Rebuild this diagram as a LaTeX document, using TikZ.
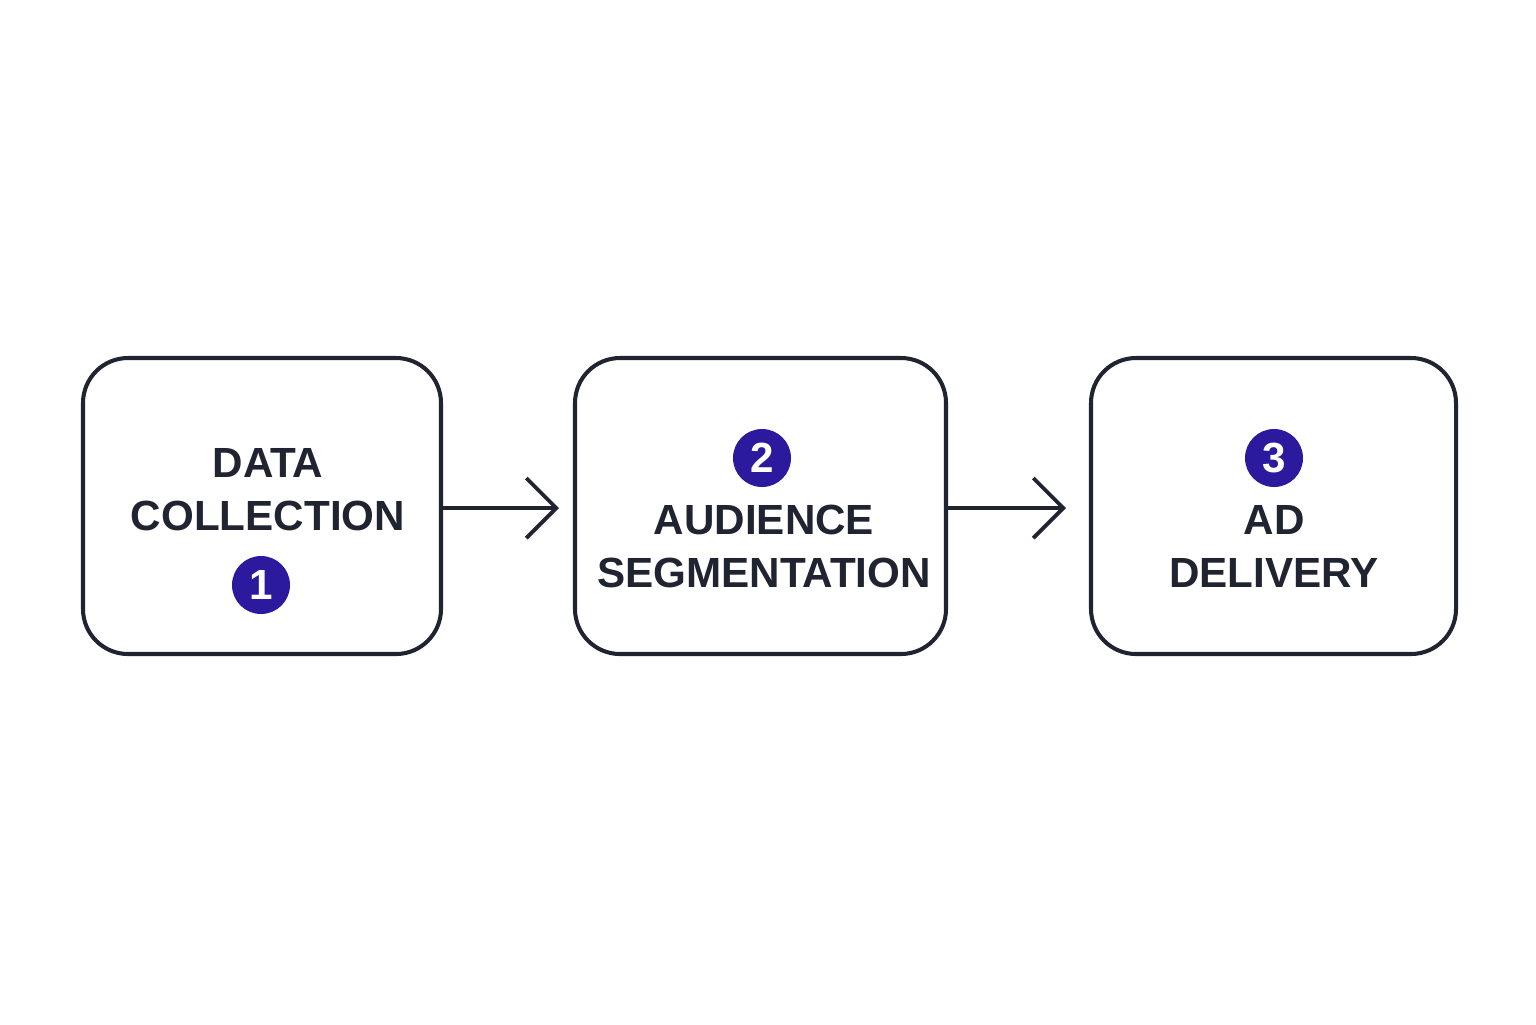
\documentclass[tikz,border=0pt]{standalone}
\usepackage{fontspec}
\setmainfont{Liberation Sans}
\usetikzlibrary{arrows.meta}
\definecolor{ink}{HTML}{1F2430}
\definecolor{dotblue}{HTML}{2C1A9E}
\tikzset{
	stage/.style={draw=ink, line width=1.15pt, rounded corners=0.45cm, minimum height=2.96cm},
	stagetext/.style={text=ink, font=\fontsize{12}{15}\selectfont\bfseries, align=center},
	numdot/.style={circle, fill=dotblue, text=white, minimum size=0.58cm, inner sep=0pt, font=\fontsize{12}{12}\selectfont\bfseries},
	flow/.style={draw=ink, line width=1.1pt, line cap=round, line join=round, -{Straight Barb[length=0.3cm,width=0.6cm]}}
}
\begin{document}
\begin{tikzpicture}
	\fill[white] (0,0) rectangle (15.36,-10.24);
	\useasboundingbox (0,0) rectangle (15.36,-10.24);

	\node[stage, minimum width=3.58cm] (collect) at (2.62,-5.06) {};
	\node[stage, minimum width=3.71cm] (segment) at (7.605,-5.06) {};
	\node[stage, minimum width=3.65cm] (deliver) at (12.735,-5.06) {};

	\node[stagetext] (collecttxt) at (2.68,-4.9) {DATA\\COLLECTION};
	\node[numdot] (one) at (2.61,-5.85) {1};

	\node[numdot] (two) at (7.62,-4.58) {2};
	\node[stagetext] (segmenttxt) at (7.64,-5.465) {AUDIENCE\\SEGMENTATION};

	\node[numdot] (three) at (12.74,-4.58) {3};
	\node[stagetext] (delivertxt) at (12.74,-5.465) {AD\\DELIVERY};

	\draw[flow, shorten >=0.14cm] ([yshift=-0.02cm]collect.east) -- ([yshift=-0.02cm]segment.west);
	\draw[flow, shorten >=0.23cm] ([yshift=-0.02cm]segment.east) -- ([yshift=-0.02cm]deliver.west);
\end{tikzpicture}
\end{document}
